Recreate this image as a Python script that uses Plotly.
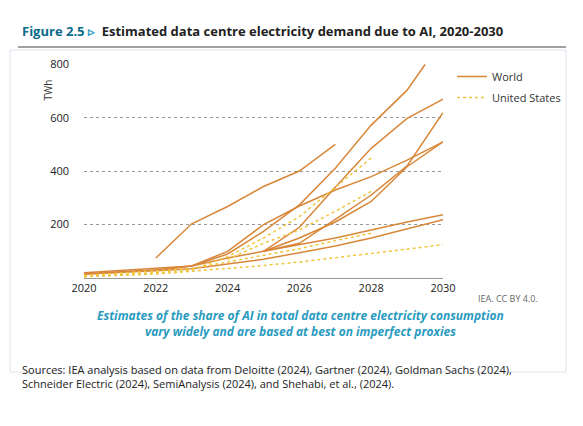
import plotly.graph_objects as go

world_series = [
    ([2022,2023,2024,2025,2026,2027], [75,203,268,343,401,501]),
    ([2020,2021,2022,2023,2024,2025,2026,2027,2028,2029,2029.5], [15,22,30,45,90,175,274,411,573,704,800]),
    ([2025,2026,2027,2028,2029,2030], [100,190,340,486,598,670]),
    ([2025,2026,2027,2028,2029,2030], [100,130,220,311,420,620]),
    ([2025,2026,2027,2028,2029,2030], [100,150,210,287,417,510]),
    ([2020,2021,2022,2023,2024,2025,2026,2027,2028,2029,2030], [15,22,30,45,100,200,270,330,380,442,510]),
    ([2020,2021,2022,2023,2024,2025,2026,2027,2028,2029,2030], [20,28,36,45,75,100,125,150,180,210,237]),
    ([2020,2021,2022,2023,2024,2025,2026,2027,2028,2029,2030], [15,20,27,35,52,70,95,120,150,185,218]),
]
us_series = [
    ([2020,2021,2022,2023,2024,2025,2026,2027,2028], [5,12,20,30,80,150,230,340,450]),
    ([2024,2025,2026,2027,2028], [70,130,180,250,325]),
    ([2020,2021,2022,2023,2024,2025,2026,2027,2028], [10,18,26,35,60,85,110,140,168]),
    ([2020,2021,2022,2023,2024,2025,2026,2027,2028,2029,2030], [5,10,15,25,35,47,60,75,92,108,125]),
]
orange = "#D8873A"
yellow = "#F0C53C"

fig = go.Figure()
for i,(x,y) in enumerate(world_series):
    fig.add_trace(go.Scatter(x=x, y=y, mode="lines", line=dict(color=orange, width=1.5),
                             name="World", legendgroup="w", showlegend=(i==0)))
for i,(x,y) in enumerate(us_series):
    fig.add_trace(go.Scatter(x=x, y=y, mode="lines", line=dict(color=yellow, width=1.5, dash="dot"),
                             name="United States", legendgroup="u", showlegend=(i==0)))

W,H = 583,426
OFF = 8
L,R,T,B = 84-OFF,443-OFF,64-OFF,278-OFF
pw,ph = R-L, B-T
def px(x): return (x-OFF-L)/pw
def py(y): return (B-(y-OFF))/ph

fig.update_layout(
    width=W, height=H, margin=dict(l=L, r=W-R, t=T, b=H-B, autoexpand=False),
    paper_bgcolor="white", plot_bgcolor="white",
    font=dict(family="Open Sans", size=11, color="#333"),
    xaxis=dict(range=[2020,2030], tickvals=[2020,2022,2024,2026,2028,2030], showgrid=False,
               showline=True, linecolor="#999", ticks="", tickfont=dict(size=11, color="#222")),
    yaxis=dict(range=[0,802], tickvals=[200,400,600,800], showgrid=True, gridcolor="#999",
               griddash="dot", gridwidth=1, zeroline=False, ticklabelstandoff=14,
               tickfont=dict(size=11, color="#222")),
    legend=dict(x=px(452), y=py(62), xanchor="left", yanchor="top", font=dict(size=11, color="#333"),
                bgcolor="rgba(0,0,0,0)", tracegroupgap=2),
    showlegend=True,
)
fig.add_shape(type="rect", xref="paper", yref="paper", x0=px(10), x1=px(566), y0=py(372), y1=py(50),
              line=dict(color="#dde3ea", width=1), fillcolor="rgba(0,0,0,0)", layer="below")
fig.add_shape(type="line", xref="paper", yref="paper", x0=px(18), x1=px(566), y0=py(47), y1=py(47),
              line=dict(color="#444", width=1))
fig.add_annotation(xref="paper", yref="paper", x=px(20), y=py(31), xanchor="left", yanchor="middle",
    text="<b><span style='color:#0b6b8a'>Figure 2.5</span> <span style='color:#2a9bbf'>▹</span>  Estimated data centre electricity demand due to AI, 2020-2030</b>",
    showarrow=False, font=dict(size=13, color="#222"))
fig.add_annotation(xref="paper", yref="paper", x=px(38), y=py(78), text="TWh", textangle=-90,
    showarrow=False, font=dict(size=10, color="#333"))
fig.add_annotation(xref="paper", yref="paper", x=px(540), y=py(307), xanchor="right", text="IEA. CC BY 4.0.",
    showarrow=False, font=dict(size=9, color="#666"))
fig.add_annotation(xref="paper", yref="paper", x=px(300), y=py(342), xanchor="center",
    text="<i><b>Estimates of the share of AI in total data centre electricity consumption<br>vary widely and are based at best on imperfect proxies</b></i>",
    showarrow=False, font=dict(size=12, color="#2a9bbf"))
fig.add_annotation(xref="paper", yref="paper", x=px(20), y=py(393), xanchor="left", align="left",
    text="Sources: IEA analysis based on data from Deloitte (2024), Gartner (2024), Goldman Sachs (2024),<br>Schneider Electric (2024), SemiAnalysis (2024), and Shehabi, et al., (2024).",
    showarrow=False, font=dict(size=11, color="#222"))

fig.write_html("out.html")
